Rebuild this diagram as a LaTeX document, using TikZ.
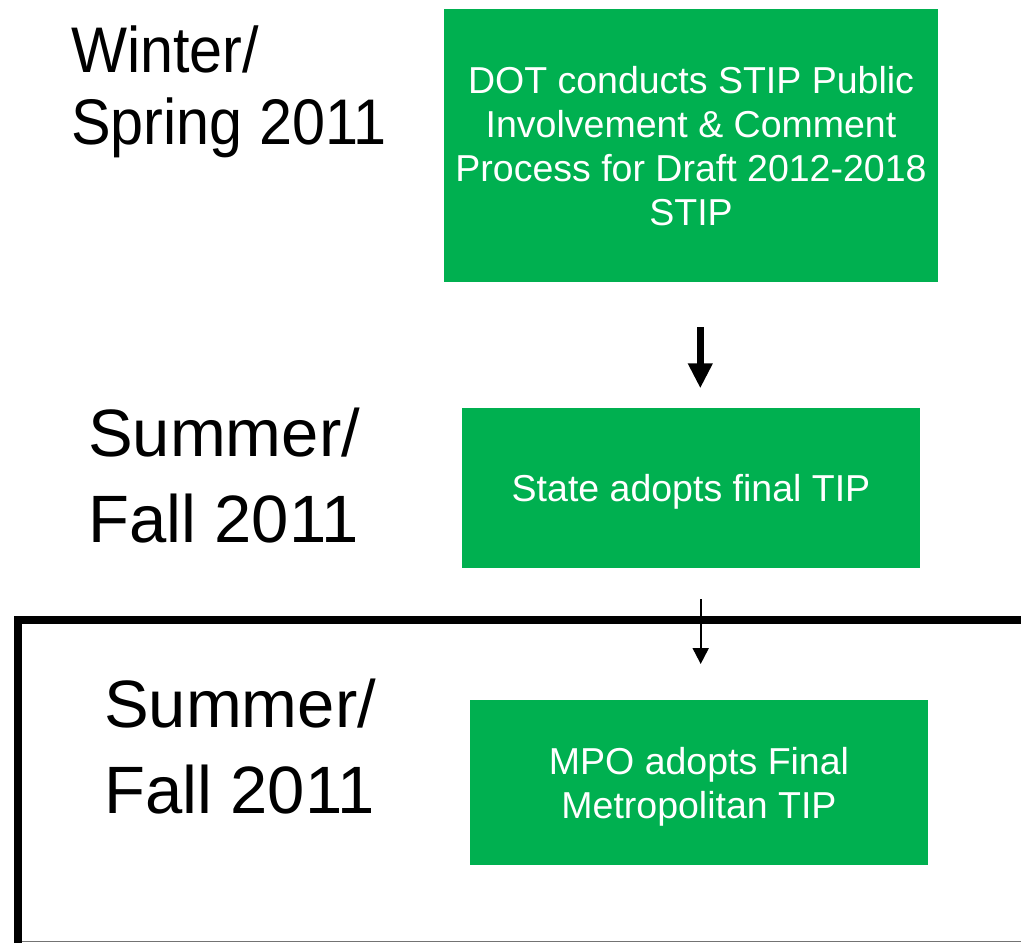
\documentclass[tikz,border=0pt]{standalone}
\usepackage{fontspec}
\setmainfont{Liberation Sans}
\newfontfamily\narrowlabel[FakeStretch=0.92]{Liberation Sans}
\usetikzlibrary{arrows.meta}
\definecolor{boxgreen}{HTML}{00B050}
\begin{document}
\begin{tikzpicture}[x=1pt,y=-1pt,
  stepbox/.style={fill=boxgreen, draw=none, text=white, align=center, inner sep=0pt, text depth=0pt, font=\fontsize{37.5}{44}\selectfont},
  period/.style={anchor=base west, align=left, inner sep=0pt, text=black},
  bigarrow/.style={line width=7pt, -{Triangle[width=23.3pt,length=25pt]}},
  thinarrow/.style={line width=2pt, -{Triangle[width=16pt,length=16pt]}},
  framebar/.style={line width=8pt, line join=miter},
  baseline/.style={draw=black!55, line width=1.2pt}]
\useasboundingbox (0,0) rectangle (1021,943);
% frame
\draw[framebar] (1021,620) -- (18,620) -- (18,947);
\draw[baseline] (22,941.6) -- (1021,941.6);
% boxes
\node[stepbox, minimum width=494pt, minimum height=273pt] (b1) at (691,145.5) {DOT conducts STIP Public\\Involvement \& Comment\\Process for Draft 2012-2018\\STIP};
\node[stepbox, minimum width=458pt, minimum height=160pt] (b2) at (691,488) {State adopts final TIP};
\node[stepbox, minimum width=458pt, minimum height=165pt] (b3) at (699,782.5) {MPO adopts Final\\Metropolitan TIP};
% labels (anchored at the baseline of the last line)
\node[period, font=\narrowlabel\fontsize{64.5}{72}\selectfont] (l1) at (71,144) {Winter/\\Spring 2011};
\node[period, font=\fontsize{67}{86}\selectfont] (l2) at (88,542) {Summer/\\Fall 2011};
\node[period, font=\fontsize{67}{86}\selectfont] (l3) at (104,813) {Summer/\\Fall 2011};
% arrows
\coordinate (a1s) at (700.3,327.3);
\coordinate (a1e) at (700.3,388.3);
\coordinate (a2s) at (700.7,599);
\coordinate (a2e) at (700.7,664);
\draw[bigarrow] (a1s) -- (a1e);
\draw[thinarrow] (a2s) -- (a2e);
\end{tikzpicture}
\end{document}
